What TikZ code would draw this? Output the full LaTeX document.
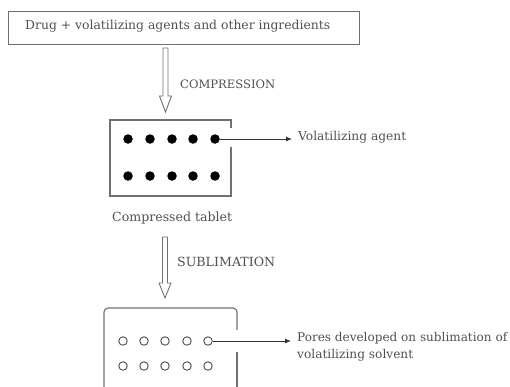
\documentclass[tikz,border=0pt]{standalone}
\usepackage{fontspec}
\usepackage{graphicx}
\setmainfont{DejaVu Serif}
\usetikzlibrary{arrows.meta}
\definecolor{txtgray}{HTML}{505050}
\definecolor{boxgray}{HTML}{707070}
\tikzset{
  lbl/.style={inner sep=0pt, text=txtgray, anchor=west},
  boxline/.style={draw=boxgray, line width=1.1pt},
  hollowarrow/.style={draw=boxgray, line width=0.9pt, fill=white},
  fulldot/.style={circle, fill=black, inner sep=0pt, minimum size=9.5pt},
  opendot/.style={circle, draw=black!70, line width=0.9pt, inner sep=0pt, minimum size=8.5pt},
  pointer/.style={draw=black!80, line width=0.8pt, shorten >=6pt, -{Latex[length=6pt,width=5pt]}}
}
\newcommand{\fitw}[2]{\resizebox{#1pt}{!}{\strut #2}}
\begin{document}
\begin{tikzpicture}[x=1pt,y=-1pt]
\useasboundingbox (0,0) rectangle (510,386);
% top box
\node[boxline, minimum width=351pt, minimum height=33pt, inner sep=0pt, anchor=north west] (top) at (8,11) {};
\node[lbl] (toptxt) at (25,27) {\fitw{305}{Drug + volatilizing agents and other ingredients}};
% arrow 1
\draw[hollowarrow] (163,48) -- (163,96) -- (159.5,96) -- (165.5,112) -- (171.5,96) -- (168,96) -- (168,48) -- cycle;
\node[lbl] (comp) at (180,86) {\fitw{95}{COMPRESSION}};
% tablet 1
\draw[boxline] (231,128) -- (231,120) -- (110,120) -- (110,196) -- (231,196) -- (231,147);
\foreach \i/\x in {1/128,2/150,3/172,4/193,5/215}{
  \node[fulldot] (d\i) at (\x,139) {};
  \node[fulldot] (e\i) at (\x,176) {};
}
\node[lbl] (va) at (298,138) {\fitw{108}{Volatilizing agent}};
\draw[pointer] (d5.east) -- (d5.east -| va.west);
\node[lbl] (ct) at (112,218) {\fitw{120}{Compressed tablet}};
% arrow 2
\draw[hollowarrow] (162.5,237) -- (162.5,283) -- (159,283) -- (165,298) -- (171,283) -- (167.5,283) -- (167.5,237) -- cycle;
\node[lbl] (subl) at (177,263) {\fitw{98}{SUBLIMATION}};
% tablet 2
\draw[boxline, rounded corners=4pt] (237,330) -- (237,308) -- (104,308) -- (104,390);
\draw[boxline] (237,352) -- (237,390);
\foreach \i/\x in {1/123,2/144,3/165,4/187,5/208}{
  \node[opendot] (p\i) at (\x,341) {};
  \node[opendot] (q\i) at (\x,366) {};
}
\node[lbl] (pores) at (297,339) {\fitw{210}{Pores developed on sublimation of}};
\node[lbl] (pores2) at (297,356) {\fitw{116}{volatilizing solvent}};
\draw[pointer] (p5.east) -- (p5.east -| pores.west);
\end{tikzpicture}
\end{document}
